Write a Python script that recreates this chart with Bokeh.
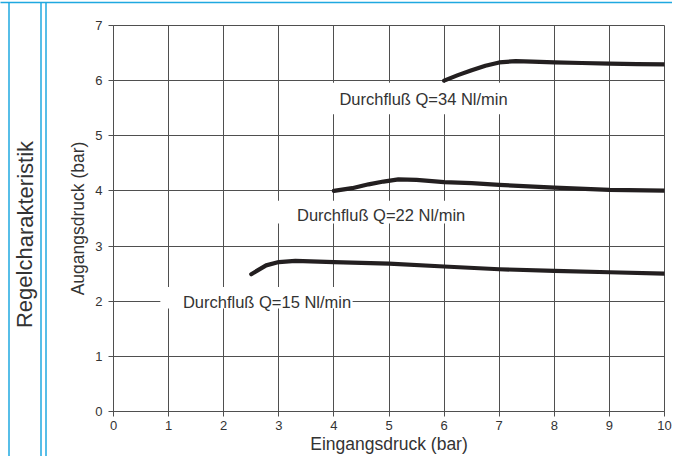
from bokeh.plotting import figure
from bokeh.models import ColumnDataSource, Range1d, FixedTicker
from bokeh.core.properties import value
from bokeh.embed import file_html
from bokeh.resources import INLINE

# ---- data ----
x_ticks = [0, 1, 2, 3, 4, 5, 6, 7, 8, 9, 10]
y_ticks = [0, 1, 2, 3, 4, 5, 6, 7]

inlet_34 = [6.0, 6.25, 6.5, 6.75, 7.0, 7.3, 7.6, 8.0, 8.5, 9.0, 9.5, 10.0]
outlet_34 = [6.0, 6.10, 6.19, 6.27, 6.33, 6.355, 6.345, 6.33, 6.32, 6.31, 6.30, 6.295]

inlet_22 = [4.0, 4.33, 4.63, 4.9, 5.17, 5.5, 6.0, 6.5, 7.0, 8.0, 9.0, 10.0]
outlet_22 = [4.0, 4.05, 4.12, 4.17, 4.21, 4.20, 4.16, 4.14, 4.11, 4.06, 4.02, 4.005]

inlet_15 = [2.5, 2.77, 3.0, 3.3, 4.0, 5.0, 6.0, 7.0, 8.0, 9.0, 10.0]
outlet_15 = [2.49, 2.65, 2.71, 2.73, 2.71, 2.68, 2.63, 2.58, 2.55, 2.525, 2.5]

labels = ["Durchfluß Q=34 Nl/min", "Durchfluß Q=22 Nl/min", "Durchfluß Q=15 Nl/min"]
title_text = "Regelcharakteristik"
x_title = "Eingangsdruck (bar)"
y_title = "Augangsdruck (bar)"

# ---- styles / layout ----
BLUE = "#1fa8e0"
GRID = "#4f4f4f"
TEXT = "#333333"
CURVE = "#231f20"
FONT = "Liberation Sans"

W, H = 672, 456
BL, BR, BT, BB = 113, 8, 25, 45
XMIN, XMAX, YMIN, YMAX = 0, 10, 0, 7
px_x = (W - BL - BR) / (XMAX - XMIN)   # pixels per x unit
px_y = (H - BT - BB) / (YMAX - YMIN)   # pixels per y unit


def cx(px):   # canvas x pixel -> data x
    return XMIN + (px - BL) / px_x


def cy(py):   # canvas y pixel (from top) -> data y
    return YMIN + (H - BB - py) / px_y


p = figure(width=W, height=H, toolbar_location=None, output_backend="svg",
           x_range=Range1d(XMIN, XMAX), y_range=Range1d(YMIN, YMAX),
           min_border_left=BL, min_border_right=BR, min_border_top=BT, min_border_bottom=BB,
           outline_line_color=GRID, outline_line_width=1)

p.xaxis.ticker = FixedTicker(ticks=x_ticks)
p.yaxis.ticker = FixedTicker(ticks=y_ticks)
for ax in (p.xaxis[0], p.yaxis[0]):
    ax.axis_line_color = GRID
    ax.major_tick_line_color = GRID
    ax.minor_tick_line_color = None
    ax.major_tick_out = 5
    ax.major_tick_in = 0
    ax.major_label_text_font = FONT
    ax.major_label_text_font_size = "13px"
    ax.major_label_text_color = TEXT
    ax.axis_label_text_font = FONT
    ax.axis_label_text_font_size = "17.5px"
    ax.axis_label_text_font_style = "normal"
    ax.axis_label_text_color = TEXT
p.xaxis.axis_label = x_title
p.yaxis.axis_label = y_title
p.xaxis.major_label_standoff = 4
p.xaxis.axis_label_standoff = 1
p.yaxis.major_label_standoff = 6
p.yaxis.axis_label_standoff = 4

p.grid.grid_line_color = GRID
p.grid.grid_line_width = 1
p.xgrid.ticker = FixedTicker(ticks=x_ticks)
p.ygrid.ticker = FixedTicker(ticks=y_ticks)

# label boxes (white background hiding the grid) and texts
box_src = ColumnDataSource(dict(
    left=[3.69, 2.92, 0.85], right=[7.21, 6.43, 4.34],
    bottom=[5.39, 3.41, 1.87], top=[5.96, 3.82, 2.26]))
p.quad(left="left", right="right", bottom="bottom", top="top", source=box_src,
       fill_color="white", line_color=None)

txt_src = ColumnDataSource(dict(x=[4.10, 3.33, 1.26], y=[5.67, 3.57, 1.99], text=labels))
p.text(x="x", y="y", text="text", source=txt_src, text_align="left", text_baseline="middle",
       text_font=value(FONT), text_font_size="16.5px", text_color=TEXT)

for xs, ys in ((inlet_34, outlet_34), (inlet_22, outlet_22), (inlet_15, outlet_15)):
    p.line(xs, ys, line_color=CURVE, line_width=4.2, line_cap="round", line_join="round")

# decorative frame of the page (outside the plot area, not clipped)
vx = [cx(8.5), cx(40.5), cx(45.5)]
deco_v = p.segment(x0=vx, x1=vx, y0=[cy(H)] * 3, y1=[cy(2)] * 3,
                   line_color=BLUE, line_width=1.5)
deco_v.level = "overlay"
deco_h = p.segment(x0=[cx(0)], x1=[cx(W)], y0=[cy(2)], y1=[cy(2)],
                   line_color=BLUE, line_width=1.5)
deco_h.level = "overlay"
ttl = p.text(x=[cx(24.5)], y=[cy(234)], text=[title_text], angle=1.5707963,
             text_align="center", text_baseline="middle",
             text_font=value(FONT), text_font_size="22px", text_color=TEXT)
ttl.level = "overlay"

open("out.html", "w").write(file_html(p, INLINE))
